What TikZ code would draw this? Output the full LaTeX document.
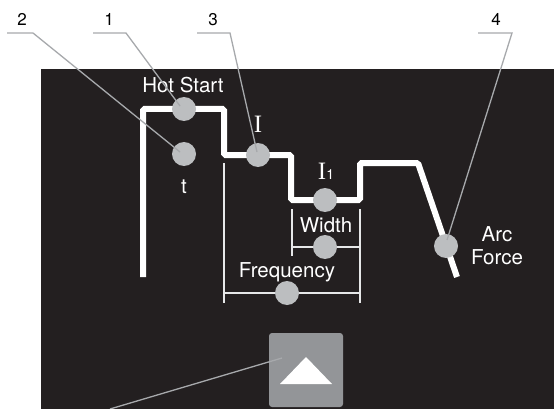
\documentclass[tikz,border=0pt]{standalone}
\usepackage{fontspec}
\setmainfont{TeX Gyre Heros}
\newfontfamily\serifI{Liberation Serif}
\usepackage{xcolor}
\usepackage{tikz}
\usetikzlibrary{calc,positioning}
\definecolor{Panel}{HTML}{231F20}
\definecolor{DotGray}{HTML}{BCBEC0}
\definecolor{KeyGray}{HTML}{939598}
\definecolor{LeadGray}{HTML}{A7A9AC}
\definecolor{RuleGray}{HTML}{E6E7E8}

\begin{document}
\begin{tikzpicture}[
  x=1pt,y=-1pt,
  wave/.style={draw=white,line width=6pt,rounded corners=1.5pt},
  rule/.style={draw=RuleGray,line width=2pt},
  dot/.style={circle,fill=DotGray,minimum size=24pt,inner sep=0pt},
  key/.style={draw=none,fill=KeyGray,rounded corners=3pt,minimum width=74pt,minimum height=74pt,inner sep=0pt},
  lbl/.style={text=white,inner sep=0pt,font=\fontsize{20.5}{23}\selectfont},
  num/.style={text=black,inner sep=0pt,anchor=base,font=\fontsize{17}{19}\selectfont},
  lead/.style={draw=LeadGray,line width=1.3pt}
]
\useasboundingbox (0,0) rectangle (554,409);
\fill[Panel] (41,69) rectangle (554,409);

\draw[wave] (143,277) -- (143,109) -- (224,109) -- (224,155) -- (291,155)
  -- (291,200) -- (360,200) -- (360,163) -- (418,163) -- (457,277);

\draw[rule] (224,163) -- (224,303);
\draw[rule] (360,209) -- (360,303);
\draw[rule] (292,209) -- (292,256);
\draw[rule] (292,247) -- (360,247);
\draw[rule] (224,293) -- (360,293);

\node[dot] (hot) at (184,109) {};
\node[dot] (tdot) at (184,154) {};
\node[dot] (idot) at (258,155) {};
\node[dot] (ione) at (325,200) {};
\node[dot] (width) at (325,247) {};
\node[dot] (freq) at (287,293) {};
\node[dot] (arc) at (446,246) {};

\node[key] (btn) at (306,370) {};
\fill[white] (280,384) -- (332,384) -- (306,357) -- cycle;

\node[lbl,anchor=base] (hotlbl) at (183,93) {Hot Start};
\node[lbl,anchor=base] (ilbl) at (258,132) {{\serifI\fontsize{25}{25}\selectfont I}};
\node[lbl,anchor=base] (tlbl) at (184,193) {t};
\node[lbl,anchor=base] (ionelbl) at (326,179) {{\serifI\fontsize{25}{25}\selectfont I}{\fontsize{14}{14}\selectfont 1}};
\node[lbl,anchor=base] (widthlbl) at (326,232) {Width};
\node[lbl,anchor=base] (freqlbl) at (287,277) {Frequency};
\node[lbl,align=center] (arclbl) at (497,246) {Arc\\Force};

\node[num] (n2) at (22,26) {2};
\node[num] (n1) at (109,26) {1};
\node[num] (n3) at (213,26) {3};
\node[num] (n4) at (496,26) {4};

\coordinate (c2) at (7,33);
\coordinate (c1) at (93,33);
\coordinate (c3) at (197,33);
\coordinate (c4) at (478,33);
\coordinate (c5) at (110,409);

\draw[lead] (c2) -- ++(26,0) -- ($(tdot.center)+(-4,-2)$);
\draw[lead] (c1) -- ++(33,0) -- ($(hot.center)+(-4,-3)$);
\draw[lead] (c3) -- ++(33,0) -- ($(idot.center)+(-1,-3)$);
\draw[lead] (c4) -- ++(34,0) -- ($(arc.center)+(1,-6)$);
\draw[lead] (c5) -- ($(btn.center)+(-24,-12)$);
\end{tikzpicture}
\end{document}
